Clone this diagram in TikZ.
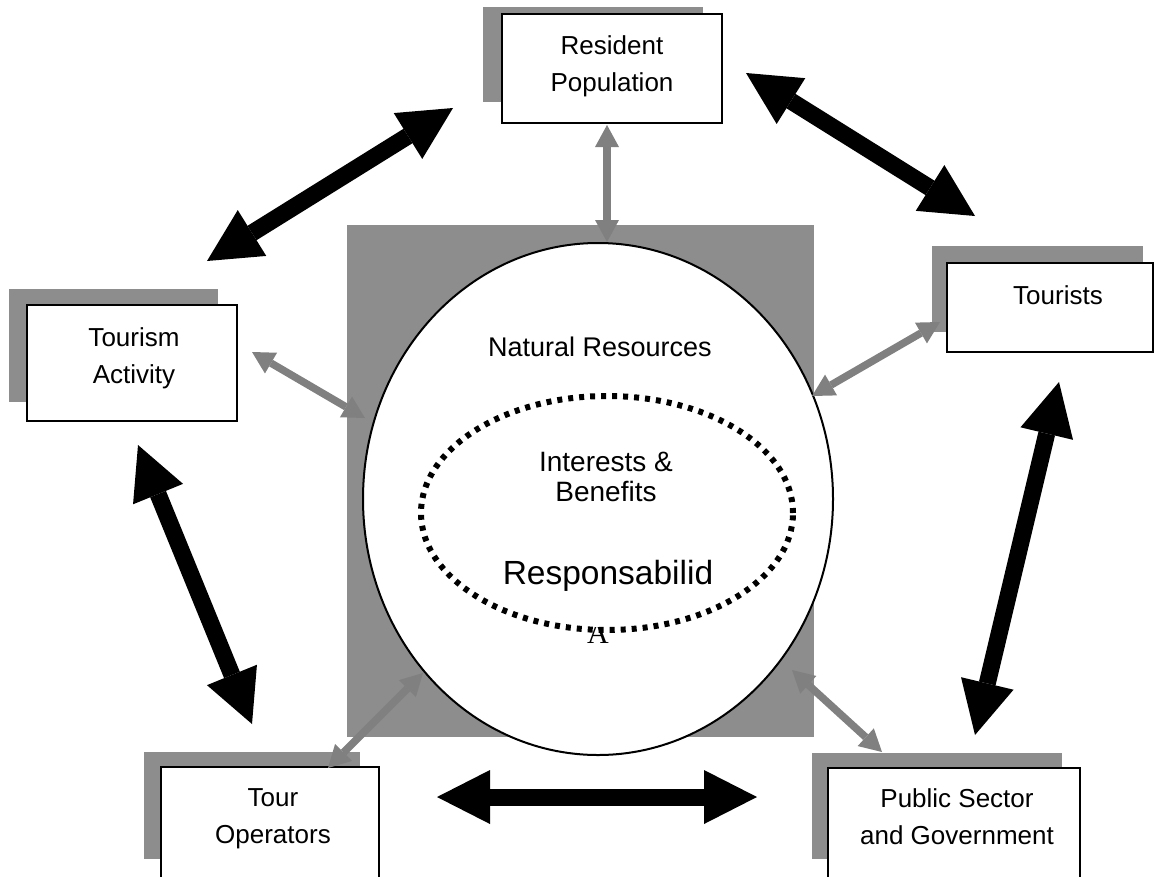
\documentclass[tikz,border=0pt]{standalone}
\usepackage{fontspec}
\setmainfont{Liberation Sans}
\newfontfamily\glyphserif{Liberation Serif}
\usetikzlibrary{arrows.meta,shapes.geometric}

\definecolor{shade}{RGB}{141,141,141}
\definecolor{linkgray}{RGB}{128,128,128}

\begin{document}
\begin{tikzpicture}[x=1pt,y=-1pt,
  shadowbox/.style={fill=shade,draw=none,rectangle,inner sep=0pt},
  actor/.style={draw=black,line width=2.5pt,fill=white,rectangle,inner sep=0pt},
  boxtext/.style={anchor=north,inner sep=0pt,align=center,font=\fontsize{26}{37}\selectfont},
  bigarrow/.style={line width=17pt,
    {Triangle[length=53pt,width=54pt,line width=0pt]}-{Triangle[length=53pt,width=54pt,line width=0pt]}},
  smallarrow/.style={draw=linkgray,line width=7.5pt,
    {Triangle[length=22pt,width=24pt,line width=0pt]}-{Triangle[length=22pt,width=24pt,line width=0pt]}}
]
\useasboundingbox (0,0) rectangle (1154,876);
\clip (0,0) rectangle (1154,876);

% stakeholder boxes with their offset shadows
\node[shadowbox,minimum width=220pt,minimum height=95pt] (resS) at (593,54.5) {};
\node[actor,minimum width=220pt,minimum height=109pt] (res) at (612,68.5) {};
\node[boxtext] (resT) at (612,35) {Resident\\Population};

\node[shadowbox,minimum width=209pt,minimum height=113pt] (actS) at (113.5,345.5) {};
\node[actor,minimum width=210pt,minimum height=116pt] (act) at (132,363) {};
\node[boxtext] (actT) at (134,327) {Tourism\\Activity};

\node[shadowbox,minimum width=211pt,minimum height=86pt] (touS) at (1037.5,289) {};
\node[actor,minimum width=206pt,minimum height=89pt] (tou) at (1050,307.5) {};
\node[boxtext] (touT) at (1058,285) {Tourists};

\node[shadowbox,minimum width=216pt,minimum height=107pt] (opS) at (252,805.5) {};
\node[actor,minimum width=218pt,minimum height=133pt] (op) at (270,833.5) {};
\node[boxtext] (opT) at (273,788) {Tour\\Operators};

\node[shadowbox,minimum width=250pt,minimum height=106pt] (pubS) at (937,806) {};
\node[actor,minimum width=252pt,minimum height=132pt] (pub) at (954,834) {};
\node[boxtext] (pubT) at (957,788) {Public Sector\\and Government};

% natural resources: grey field, circle and dotted core
\node[shadowbox,minimum width=467pt,minimum height=512pt] (land) at (580.5,481) {};
\node[ellipse,draw=black,line width=2pt,fill=white,inner sep=0pt,
      minimum width=470pt,minimum height=512pt] (nat) at (598,499) {};
\node[anchor=north,inner sep=0pt,font=\fontsize{27}{30}\selectfont] (natT) at (600,337) {Natural Resources};

\begin{scope}
  \clip (570,627) rectangle (630,650);
  \node[anchor=base,inner sep=0pt,font=\glyphserif\fontsize{30}{30}\selectfont] (tail) at (598,643) {A};
\end{scope}
\node[ellipse,draw=black,line width=6pt,dash pattern=on 5pt off 6pt,inner sep=0pt,
      minimum width=372pt,minimum height=234pt] (core) at (607,513) {};
\node[anchor=north,inner sep=0pt,align=center,font=\fontsize{28}{30}\selectfont] (coreT) at (606,452) {Interests \&\\Benefits};
\node[anchor=north,inner sep=0pt,font=\fontsize{33.5}{36}\selectfont] (respT) at (608,560) {Responsabilid};

% arrow end points
\coordinate (b1a) at (453,108);  \coordinate (b1b) at (207,261);
\coordinate (b2a) at (746,73);   \coordinate (b2b) at (975,216);
\coordinate (b3a) at (138,445);  \coordinate (b3b) at (252,724);
\coordinate (b4a) at (437,797);  \coordinate (b4b) at (757,797);
\coordinate (b5a) at (1059,382); \coordinate (b5b) at (975,735);

\coordinate (g1a) at (607,125);  \coordinate (g1b) at (607,242);
\coordinate (g2a) at (252,352);  \coordinate (g2b) at (365,418);
\coordinate (g3a) at (940,322);  \coordinate (g3b) at (812,396);
\coordinate (g4a) at (423,673);  \coordinate (g4b) at (328,768);
\coordinate (g5a) at (792,670);  \coordinate (g5b) at (882,752);

% relations between stakeholders
\draw[bigarrow] (b1a) -- (b1b);
\draw[bigarrow] (b2a) -- (b2b);
\draw[bigarrow] (b3a) -- (b3b);
\draw[bigarrow] (b4a) -- (b4b);
\draw[bigarrow] (b5a) -- (b5b);

% relations with the natural resources
\draw[smallarrow] (g1a) -- (g1b);
\draw[smallarrow] (g2a) -- (g2b);
\draw[smallarrow] (g3a) -- (g3b);
\draw[smallarrow] (g4a) -- (g4b);
\draw[smallarrow] (g5a) -- (g5b);
\end{tikzpicture}
\end{document}
